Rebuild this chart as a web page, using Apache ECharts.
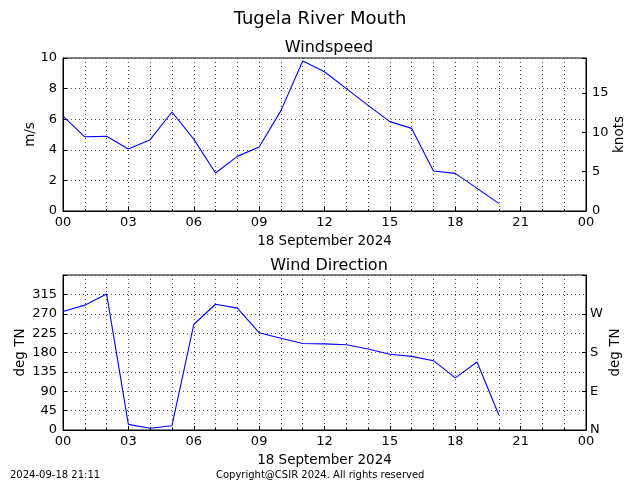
<!DOCTYPE html>
<html>
<head>
<meta charset="utf-8">
<script src="https://cdn.jsdelivr.net/npm/echarts@6/dist/echarts.min.js"></script>
<style>html,body{margin:0;padding:0;background:#fff}#c{width:640px;height:480px}</style>
</head>
<body>
<div id="c"></div>
<script>
var hours = [0,1,2,3,4,5,6,7,8,9,10,11,12,13,14,15,16,17,18,19,20];
var windSpeed = [6.2,4.85,4.88,4.05,4.66,6.47,4.7,2.48,3.57,4.18,6.56,9.8,9.1,8.0,6.9,5.84,5.4,2.61,2.46,1.48,0.5];
var windDir = [275,290,316,13,4,10,245,292,283,226,213,201,200,198,188,176,171,161,121,158,35];
var compassLabels = ['N','E','S','W'];
var dateLabel = '18 September 2024';
var KNOTS = 1.94384;

var F = 'DejaVu Sans';
var GRID_COLOR = '#555';
function hourFmt(v){ var h = Math.round(v) % 24; return (h < 10 ? '0' : '') + h; }
function pairs(xs, ys){ return xs.map(function(x,i){ return [x, ys[i]]; }); }

function xAxis(gi){
  return {
    type:'value', gridIndex:gi, min:0, max:24, interval:3,
    name: dateLabel, nameLocation:'middle', nameGap:23, nameMoveOverlap:false,
    nameTextStyle:{fontFamily:F, fontSize:13.5, color:'#000'},
    axisLine:{show:true, lineStyle:{color:'#000'}},
    axisTick:{show:true, inside:true, length:4, lineStyle:{color:'#000'}},
    minorTick:{show:true, splitNumber:3, length:2, lineStyle:{color:'#000'}},
    axisLabel:{formatter:hourFmt, fontFamily:F, fontSize:13, color:'#000', margin:5},
    splitLine:{show:true, lineStyle:{color:GRID_COLOR, type:[1,3], width:1}},
    minorSplitLine:{show:true, lineStyle:{color:GRID_COLOR, type:[1,3], width:1}}
  };
}
var gridLineStyle = {show:true, lineStyle:{color:GRID_COLOR, type:[1,3], width:1}};
function yName(text, gap){
  return {name:text, nameLocation:'middle', nameGap:gap, nameMoveOverlap:false,
          nameTextStyle:{fontFamily:F, fontSize:13.5, color:'#000'}};
}
function merge(a, b){ for (var k in b) a[k] = b[k]; return a; }

var option = {
  animation:false,
  backgroundColor:'#fff',
  title:[
    {text:'Tugela River Mouth', left:'center', top:5, textStyle:{fontFamily:F, fontSize:18, fontWeight:'normal', color:'#000'}},
    {text:'Windspeed', left:324, textAlign:'center', top:35, textStyle:{fontFamily:F, fontSize:16, fontWeight:'normal', color:'#000'}},
    {text:'Wind Direction', left:324, textAlign:'center', top:253, textStyle:{fontFamily:F, fontSize:16, fontWeight:'normal', color:'#000'}}
  ],
  graphic:[
    {type:'text', left:10, top:470, style:{text:'2024-09-18 21:11', font:'10px "DejaVu Sans"', fill:'#000'}},
    {type:'text', left:216, top:470, style:{text:'Copyright@CSIR 2024. All rights reserved', font:'10px "DejaVu Sans"', fill:'#000'}}
  ],
  grid:[
    {left:63, right:54, top:58, height:153, show:true, borderColor:'#000', borderWidth:1, backgroundColor:'transparent'},
    {left:63, right:54, top:275, height:155, show:true, borderColor:'#000', borderWidth:1, backgroundColor:'transparent'}
  ],
  xAxis:[xAxis(0), xAxis(1)],
  yAxis:[
    merge({type:'value', gridIndex:0, min:0, max:10, interval:2, position:'left',
     axisLine:{show:true, lineStyle:{color:'#000'}},
     axisTick:{show:true, inside:true, length:4, lineStyle:{color:'#000'}},
     axisLabel:{fontFamily:F, fontSize:13, color:'#000', margin:6},
     splitLine:gridLineStyle}, yName('m/s', 26)),
    merge({type:'value', gridIndex:0, min:0, max:10*KNOTS, interval:5, position:'right',
     axisLine:{show:true, lineStyle:{color:'#000'}},
     axisTick:{show:true, inside:true, length:4, lineStyle:{color:'#000'}},
     axisLabel:{fontFamily:F, fontSize:13, color:'#000', margin:6, formatter:function(v){ return (Math.abs(v % 5) < 1e-6) ? String(v) : ''; }},
     splitLine:{show:false}}, yName('knots', 26)),
    merge({type:'value', gridIndex:1, min:0, max:360, interval:45, position:'left',
     axisLine:{show:true, lineStyle:{color:'#000'}},
     axisTick:{show:true, inside:true, length:4, lineStyle:{color:'#000'}},
     axisLabel:{fontFamily:F, fontSize:13, color:'#000', margin:6, formatter:function(v){ return v >= 360 ? '' : String(v); }},
     splitLine:gridLineStyle}, yName('deg TN', 36)),
    merge({type:'value', gridIndex:1, min:0, max:360, interval:90, position:'right',
     axisLine:{show:true, lineStyle:{color:'#000'}},
     axisTick:{show:true, inside:true, length:4, lineStyle:{color:'#000'}},
     axisLabel:{fontFamily:F, fontSize:13, color:'#000', margin:4, formatter:function(v){ var i = Math.round(v/90); return i < 4 ? compassLabels[i] : ''; }},
     splitLine:{show:false}}, yName('deg TN', 22))
  ],
  series:[
    {type:'line', xAxisIndex:0, yAxisIndex:0, data:pairs(hours, windSpeed), showSymbol:false, lineStyle:{color:'#0000ff', width:1.1}, itemStyle:{color:'#0000ff'}},
    {type:'line', xAxisIndex:1, yAxisIndex:2, data:pairs(hours, windDir), showSymbol:false, lineStyle:{color:'#0000ff', width:1.1}, itemStyle:{color:'#0000ff'}}
  ]
};
echarts.init(document.getElementById('c'), null, {renderer:'canvas'}).setOption(option);
</script>
</body>
</html>
